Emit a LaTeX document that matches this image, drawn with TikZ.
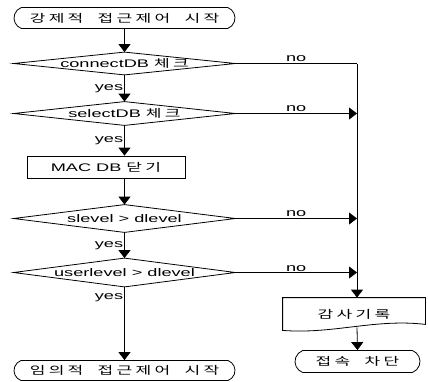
\documentclass[tikz,border=0pt]{standalone}
\usepackage{fontspec}
\setmainfont{Liberation Sans}[FakeStretch=1.65]
\newfontfamily\krfont{Noto Sans CJK KR}[FakeStretch=1.55, LetterSpace=30, WordSpace=2]
\newcommand{\kr}[1]{{\krfont #1}}
\usetikzlibrary{shapes.misc,arrows.meta}

\begin{document}
\begin{tikzpicture}[x=1pt, y=-1pt, line width=0.8pt,
    font=\fontsize{11}{13}\selectfont,
    terminal/.style={rounded rectangle, rounded rectangle arc length=140, draw, inner sep=0pt, minimum height=21pt},
    decision/.style={inner sep=0pt, minimum width=221pt},
    process/.style={rectangle, draw, inner sep=0pt, minimum width=158pt, minimum height=22pt},
    flow/.style={-{Triangle[length=8pt,width=12pt]}},
    tag/.style={inner sep=1pt}]
\useasboundingbox (0,0) rectangle (428,381);
% Nodes
\node[terminal, minimum width=221pt] (start) at (124.5,18) {\kr{강제적 접근제어 시작}};
\node[decision, minimum height=22pt] (d1) at (124.5,63.5) {connectDB \kr{체크}};
\node[decision, minimum height=23pt] (d2) at (124.5,113.5) {selectDB \kr{체크}};
\node[process] (mac) at (106,167) {MAC DB \kr{닫기}};
\node[decision, minimum height=27pt] (d3) at (124.5,218.5) {slevel > dlevel};
\node[decision, minimum height=28pt] (d4) at (124.5,272.5) {userlevel > dlevel};
\node[terminal, minimum width=221pt, minimum height=20pt] (end1) at (124.5,370.5) {\kr{임의적 접근제어 시작}};
\node[inner sep=0pt, minimum width=142pt, minimum height=32pt] (log) at (354,314) {\kr{감사기록}};
\node[terminal, minimum width=125pt, minimum height=22pt] (end2) at (357.5,361.5) {\kr{접속 차단}};
\coordinate (bus) at (357,63.5);
% Shapes
\foreach \d in {d1,d2,d3,d4}
  \draw (\d.west) -- (\d.north) -- (\d.east) -- (\d.south) -- cycle;
\draw (log.north west) -- (log.north east) -- ([yshift=6pt]log.south east)
  .. controls +(-50pt,6pt) and +(50pt,-4pt) .. (log.south west) -- cycle;
% Edges
\draw[flow] (start) -- (d1);
\draw[flow] (d1) -- node[tag, left] {yes} (d2);
\draw[flow] (d2.south) -- node[tag, left] {yes} (d2.south |- mac.north);
\draw[flow] (mac.south -| d3.north) -- (d3.north);
\draw[flow] (d3) -- node[tag, left] {yes} (d4);
\draw[flow] (d4.south) -- node[tag, left, pos=0.15] {yes} (end1.north);
\draw (d1.east) -- node[tag, above, pos=0.5] {no} (bus);
\draw[flow] (bus) -- (bus |- log.north);
\draw[flow] (d2.east) -- node[tag, above] {no} (d2.east -| bus);
\draw[flow] (d3.east) -- node[tag, above] {no} (d3.east -| bus);
\draw[flow] (d4.east) -- node[tag, above] {no} (d4.east -| bus);
\draw[flow] ([yshift=3pt]log.south -| bus) -- (end2.north);
\end{tikzpicture}
\end{document}
